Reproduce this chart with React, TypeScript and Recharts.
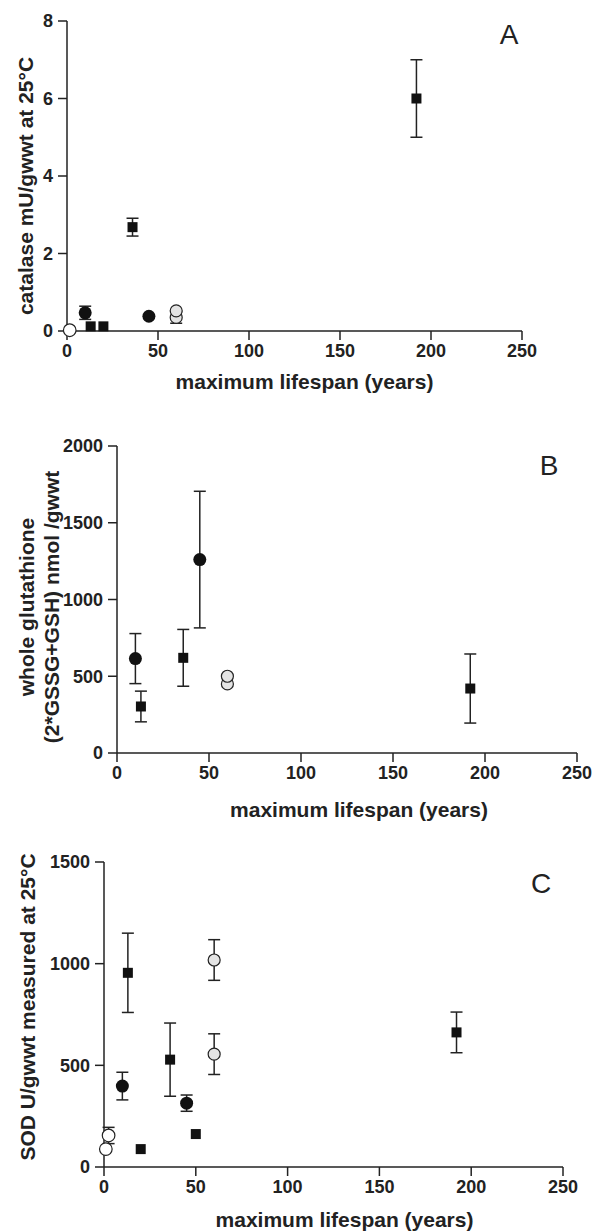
import React from "react";
import { ErrorBar, Scatter, ScatterChart, XAxis, YAxis } from "recharts";

// lifespan (years) on x, value on y, err = +/- bar
const lifespanTicks = [0, 50, 100, 150, 200, 250];

const catalaseTicks = [0, 2, 4, 6, 8];
const catalaseOpen = [{ x: 1.5, y: 0.02 }];
const catalaseBlack = [
  { x: 10, y: 0.47, err: 0.17 },
  { x: 45, y: 0.38 },
];
const catalaseSquare = [
  { x: 13, y: 0.12 },
  { x: 20, y: 0.12 },
  { x: 36, y: 2.68, err: 0.23 },
  { x: 192, y: 6.0, err: 1.0 },
];
const catalaseGray = [
  { x: 60, y: 0.35, err: 0.15 },
  { x: 60, y: 0.52 },
];

const glutathioneTicks = [0, 500, 1000, 1500, 2000];
const glutathioneBlack = [
  { x: 10, y: 615, err: 163 },
  { x: 45, y: 1260, err: 445 },
];
const glutathioneSquare = [
  { x: 13, y: 303, err: 100 },
  { x: 36, y: 620, err: 185 },
  { x: 192, y: 420, err: 225 },
];
const glutathioneGray = [
  { x: 60, y: 450 },
  { x: 60, y: 500 },
];

const sodTicks = [0, 500, 1000, 1500];
const sodOpen = [
  { x: 1, y: 88 },
  { x: 2.5, y: 155, err: 40 },
];
const sodBlack = [
  { x: 10, y: 398, err: 68 },
  { x: 45, y: 314, err: 40 },
];
const sodSquare = [
  { x: 13, y: 955, err: 195 },
  { x: 20, y: 88 },
  { x: 36, y: 528, err: 180 },
  { x: 50, y: 162 },
  { x: 192, y: 662, err: 100 },
];
const sodGray = [
  { x: 60, y: 1018, err: 100 },
  { x: 60, y: 555, err: 100 },
];

const FONT = '"Liberation Sans", Arial, Helvetica, sans-serif';
const INK = "#222";

const tickStyle = { fill: INK, fontSize: 18, fontWeight: "bold", fontFamily: FONT };
const lineStyle = { stroke: INK, strokeWidth: 1.5 };

const squareShape = (p: any) => <rect x={p.cx - 5} y={p.cy - 5} width={10} height={10} fill="#111" />;
const blackDot = (p: any) => <circle cx={p.cx} cy={p.cy} r={6.5} fill="#111" />;
const grayDot = (p: any) => <circle cx={p.cx} cy={p.cy} r={6} fill="#e4e4e4" stroke={INK} strokeWidth={1.2} />;
const openDot = (p: any) => <circle cx={p.cx} cy={p.cy} r={6.3} fill="#fff" stroke={INK} strokeWidth={1.2} />;
const noShape = () => <g />;

type Series = { data: any[]; shape: (p: any) => React.ReactElement };

function xTitle(dy: number, dx: number) {
  return (props: any) => {
    const vb = props.viewBox;
    return (
      <text x={vb.x + vb.width / 2 + dx} y={vb.y + dy} textAnchor="middle" fill={INK}
        fontFamily={FONT} fontSize={21} fontWeight="bold">
        maximum lifespan (years)
      </text>
    );
  };
}

function yTitle(lines: { text: string; x: number }[], cy: number) {
  return () => (
    <g>
      {lines.map((l) => (
        <text key={l.text} x={l.x} y={cy} transform={`rotate(-90, ${l.x}, ${cy})`} textAnchor="middle"
          fill={INK} fontFamily={FONT} fontSize={21} fontWeight="bold">
          {l.text}
        </text>
      ))}
    </g>
  );
}

function Panel(props: {
  top: number; height: number; margin: any; xHeight: number; yWidth: number;
  yDomain: number[]; yTicks: number[]; series: Series[];
  xLabelDy: number; xLabelDx: number; yLines: { text: string; x: number }[]; yCenter: number;
  letter: string; letterX: number; letterY: number;
}) {
  return (
    <div style={{ position: "absolute", left: 0, top: props.top }}>
      <ScatterChart width={593} height={props.height} margin={props.margin}>
        <XAxis type="number" dataKey="x" domain={[0, 250]} ticks={lifespanTicks} interval={0}
          height={props.xHeight} tickSize={9} tickMargin={4} tick={tickStyle}
          axisLine={lineStyle} tickLine={lineStyle}
          label={{ content: xTitle(props.xLabelDy, props.xLabelDx) }} />
        <YAxis type="number" dataKey="y" domain={props.yDomain} ticks={props.yTicks} interval={0}
          width={props.yWidth} tickSize={9} tickMargin={5} tick={tickStyle}
          axisLine={lineStyle} tickLine={lineStyle}
          label={{ content: yTitle(props.yLines, props.yCenter) }} />
        {props.series.map((s, i) => (
          <Scatter key={"e" + i} data={s.data} shape={noShape} isAnimationActive={false}>
            <ErrorBar dataKey="err" direction="y" width={6} stroke={INK} strokeWidth={1.5} />
          </Scatter>
        ))}
        {props.series.map((s, i) => (
          <Scatter key={"m" + i} data={s.data} shape={s.shape} isAnimationActive={false} />
        ))}
        <text x={props.letterX} y={props.letterY} textAnchor="middle" fill={INK} fontFamily={FONT} fontSize={28}>
          {props.letter}
        </text>
      </ScatterChart>
    </div>
  );
}

export default function App() {
  return (
    <div style={{ position: "absolute", left: 0, top: 0, width: 593, height: 1232, background: "#fff" }}>
      <Panel top={0} height={400} margin={{ top: 21, right: 71, bottom: 0, left: 0 }}
        xHeight={69} yWidth={67} yDomain={[0, 8]} yTicks={catalaseTicks}
        series={[
          { data: catalaseOpen, shape: openDot },
          { data: catalaseBlack, shape: blackDot },
          { data: catalaseSquare, shape: squareShape },
          { data: catalaseGray, shape: grayDot },
        ]}
        xLabelDy={58} xLabelDx={10}
        yLines={[{ text: "catalase mU/gwwt at 25°C", x: 33 }]} yCenter={186}
        letter="A" letterX={509} letterY={44} />
      <Panel top={400} height={425} margin={{ top: 46, right: 16, bottom: 0, left: 0 }}
        xHeight={72} yWidth={117} yDomain={[0, 2000]} yTicks={glutathioneTicks}
        series={[
          { data: glutathioneBlack, shape: blackDot },
          { data: glutathioneSquare, shape: squareShape },
          { data: glutathioneGray, shape: grayDot },
        ]}
        xLabelDy={64} xLabelDx={12}
        yLines={[
          { text: "whole glutathione", x: 34 },
          { text: "(2*GSSG+GSH) nmol /gwwt", x: 59 },
        ]} yCenter={207}
        letter="B" letterX={549} letterY={75} />
      <Panel top={825} height={407} margin={{ top: 37, right: 30, bottom: 0, left: 0 }}
        xHeight={65} yWidth={104} yDomain={[0, 1500]} yTicks={sodTicks}
        series={[
          { data: sodOpen, shape: openDot },
          { data: sodBlack, shape: blackDot },
          { data: sodSquare, shape: squareShape },
          { data: sodGray, shape: grayDot },
        ]}
        xLabelDy={60} xLabelDx={11}
        yLines={[{ text: "SOD U/gwwt measured at 25°C", x: 35 }]} yCenter={182}
        letter="C" letterX={541} letterY={68} />
    </div>
  );
}
